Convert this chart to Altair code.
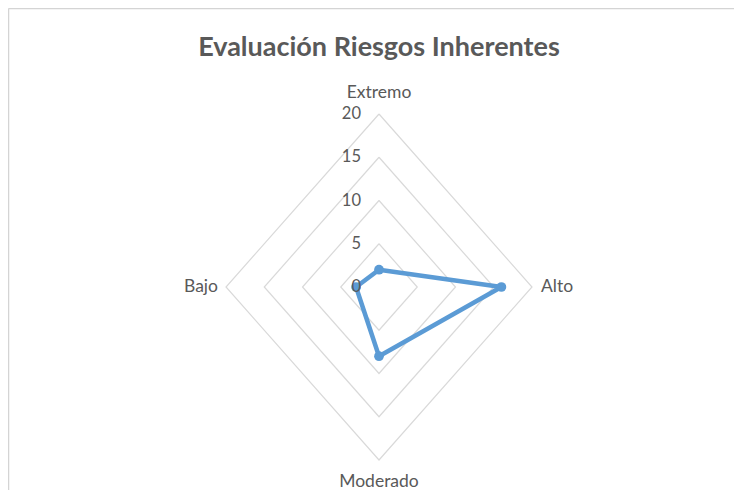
import altair as alt
import pandas as pd

# ---- data ----
categories = ["Extremo", "Alto", "Moderado", "Bajo"]
values = [2, 16, 8, 3]
angles_deg = [0, 90, 180, 270]
grid_levels = [5, 10, 15, 20]
tick_values = [0, 5, 10, 15, 20]
tick_labels = ["0", "5", "10", "15", "20"]
chart_title = "Evaluación Riesgos Inherentes"
max_value = 20

TEXT = "#595959"
GRID = "#D9D9D9"
LINE = "#5B9BD5"
FONT = "Lato"

# series (closed polygon)
series_rows = []
for k in range(len(categories) + 1):
    i = k % len(categories)
    series_rows.append({"cat": categories[i], "value": values[i],
                        "angle": angles_deg[i], "order": k})
series_df = pd.DataFrame(series_rows)

# grid diamonds
grid_rows = []
for lv in grid_levels:
    for k in range(len(angles_deg) + 1):
        grid_rows.append({"level": lv, "value": lv,
                          "angle": angles_deg[k % len(angles_deg)], "order": k})
grid_df = pd.DataFrame(grid_rows)

label_df = pd.DataFrame({"cat": categories, "angle": angles_deg,
                         "value": [max_value] * len(categories)})
tick_df = pd.DataFrame({"value": tick_values, "label": tick_labels,
                        "angle": [0] * len(tick_values)})

xs = alt.Scale(domain=[-max_value, max_value], nice=False, zero=False)
ys = alt.Scale(domain=[-max_value, max_value], nice=False, zero=False)
X = alt.X("px:Q", scale=xs, axis=None)
Y = alt.Y("py:Q", scale=ys, axis=None)


def polar(chart):
    return chart.transform_calculate(
        px="datum.value * sin(datum.angle * PI / 180)",
        py="datum.value * cos(datum.angle * PI / 180)",
    )


grid = polar(alt.Chart(grid_df)).mark_line(
    color=GRID, strokeWidth=1.2
).encode(x=X, y=Y, detail="level:N", order="order:Q")

line = polar(alt.Chart(series_df)).mark_line(
    color=LINE, strokeWidth=4.5, strokeJoin="round"
).encode(x=X, y=Y, order="order:Q")

points = polar(alt.Chart(series_df[series_df["order"] < len(categories)])).mark_point(
    filled=True, shape="circle", size=95, color=LINE, opacity=1
).encode(x=X, y=Y)

LAB_SIZE = 17.5
label_base = polar(alt.Chart(label_df))
lab_top = label_base.transform_filter("datum.angle == 0").mark_text(
    font=FONT, fontSize=LAB_SIZE, color=TEXT, align="center", baseline="middle", dy=-21
).encode(x=X, y=Y, text="cat:N")
lab_right = label_base.transform_filter("datum.angle == 90").mark_text(
    font=FONT, fontSize=LAB_SIZE, color=TEXT, align="left", baseline="middle", dx=9
).encode(x=X, y=Y, text="cat:N")
lab_bottom = label_base.transform_filter("datum.angle == 180").mark_text(
    font=FONT, fontSize=LAB_SIZE, color=TEXT, align="center", baseline="middle", dy=22
).encode(x=X, y=Y, text="cat:N")
lab_left = label_base.transform_filter("datum.angle == 270").mark_text(
    font=FONT, fontSize=LAB_SIZE, color=TEXT, align="right", baseline="middle", dx=-8
).encode(x=X, y=Y, text="cat:N")

ticks = polar(alt.Chart(tick_df)).mark_text(
    font=FONT, fontSize=16.5, color=TEXT, align="right", baseline="middle", dx=-18
).encode(x=X, y=Y, text="label:N")

title_mark = alt.Chart(pd.DataFrame({"t": [chart_title]})).mark_text(
    font=FONT, fontSize=27, fontWeight="bold", color=TEXT,
    align="center", baseline="alphabetic"
).encode(x=alt.value(153), y=alt.value(-58), text="t:N")

PAD_L, PAD_T, PAD_R, PAD_B = 218, 106, 202, 30
W, H = 306, 346

border_top = alt.Chart(pd.DataFrame({"a": [0]})).mark_rule(
    color="#D4D4D4", strokeWidth=1.5
).encode(x=alt.value(-PAD_L + 0.5), x2=alt.value(W + PAD_R), y=alt.value(-PAD_T + 0.5))
border_left = alt.Chart(pd.DataFrame({"a": [0]})).mark_rule(
    color="#D4D4D4", strokeWidth=1.5
).encode(x=alt.value(-PAD_L + 0.5), y=alt.value(-PAD_T + 0.5), y2=alt.value(H + PAD_B))

chart = alt.layer(
    border_top, border_left, grid, line, points,
    lab_top, lab_right, lab_bottom, lab_left, ticks, title_mark
).properties(
    width=W, height=H,
    autosize=alt.AutoSizeParams(type="none"),
    padding={"left": PAD_L, "top": PAD_T, "right": PAD_R, "bottom": PAD_B},
    background="white",
).configure_view(stroke=None)

chart.save("out.html", embed_options={"renderer": "svg", "actions": False})
